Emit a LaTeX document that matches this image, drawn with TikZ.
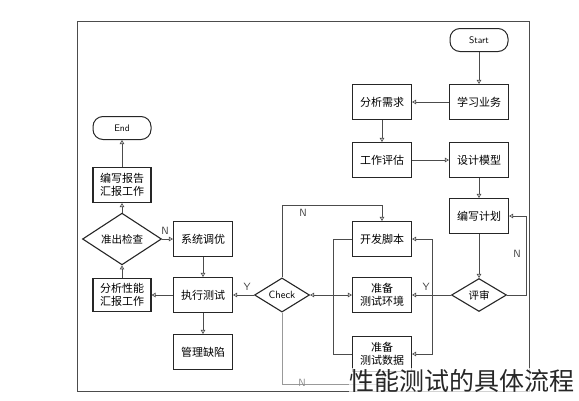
\documentclass[tikz,border=0pt]{standalone}
\usepackage{fontspec}
\newfontfamily\cjk{Noto Sans CJK SC}
\usetikzlibrary{arrows.meta}
\usetikzlibrary{shapes.geometric}

\begin{document}
\begin{tikzpicture}[x=1pt,y=-1pt]
\tikzset{task/.style={rectangle,draw=black!85,line width=1.1pt,minimum width=59pt,minimum height=35pt,inner sep=1pt,align=center,font=\cjk\fontsize{11}{13}\selectfont}}
\tikzset{term/.style={rectangle,draw=black!85,line width=1pt,rounded corners=10pt,minimum width=58pt,minimum height=23pt,font=\sffamily\fontsize{9.5}{10}\selectfont}}
\tikzset{decide/.style={diamond,draw=black!85,line width=1.1pt,minimum width=55pt,minimum height=33pt,inner sep=0pt,font=\cjk\fontsize{10.5}{12}\selectfont}}
\tikzset{flow/.style={draw=black!70,line width=0.7pt,-{Triangle[open,length=4pt,width=4.5pt]}}}
\tikzset{link/.style={draw=black!70,line width=0.7pt}}
\tikzset{yn/.style={font=\sffamily\fontsize{10.5}{11}\selectfont,text=black!75,inner sep=1pt}}
\useasboundingbox (0,0) rectangle (579,400);
\draw[black!70,line width=0.8pt] (77,21) rectangle (529,391);

% right column
\node[term] (start) at (479,40) {Start};
\node[task] (learn) at (479,102) {学习业务};
\node[task] (need) at (382,102) {分析需求};
\node[task] (cost) at (382,160) {工作评估};
\node[task] (model) at (479,160) {设计模型};
\node[task] (plan) at (479,216) {编写计划};
\node[decide] (review) at (479,295) {评审};

% middle column
\node[task] (script) at (382,239) {开发脚本};
\node[task] (env) at (382,295) {准备\\测试环境};
\node[task] (data) at (382,354) {准备\\测试数据};
\node[decide,font=\sffamily\fontsize{10.5}{12}\selectfont] (chk) at (282,295) {Check};

% left columns
\node[task] (tune) at (203,239) {系统调优};
\node[task] (run) at (203,295) {执行测试};
\node[task] (bug) at (203,352) {管理缺陷};
\node[task,minimum width=58pt,minimum height=33pt] (perf) at (122,295) {分析性能\\汇报工作};
\node[decide,minimum width=79pt] (exit) at (122,239) {准出检查};
\node[task,minimum width=58pt,minimum height=35pt] (report) at (122,185) {编写报告\\汇报工作};
\node[term] (end) at (122,128) {End};

\coordinate (ysplit) at (432,295);
\coordinate (merge) at (333,295);
\coordinate (nloop) at (526,216);
\coordinate (ntop) at (282,205);
\coordinate (nbot) at (282,384);

\draw[flow] (start) -- (learn);
\draw[flow] (learn) -- (need);
\draw[flow] (need) -- (cost);
\draw[flow] (cost) -- (model);
\draw[flow] (model) -- (plan);
\draw[flow] (plan) -- (review);
\draw[flow] (review.east) -| (nloop) -- (plan.east);
\node[yn] at (517,254) {N};
\draw[flow] (review.west) -- (env.east);
\node[yn] at (426,287) {Y};
\draw[flow] (ysplit) |- (script.east);
\draw[flow] (ysplit) |- (data.east);
\draw[link] (script.west) -| (merge);
\draw[link] (data.west) -| (merge);
\draw[flow] (merge) -- (chk.east);
\draw[flow] (merge) -- (env.west);
\draw[flow] (chk.north) -- (ntop) -| (script.north);
\node[yn] at (303,213) {N};
\draw[flow,draw=black!40] (chk.south) -- (nbot) -| (data.south);
\node[yn,text=black!45] at (302,383) {N};
\draw[flow] (chk.west) -- (run.east);
\node[yn] at (247,287) {Y};
\draw[flow] (tune) -- (run);
\draw[flow] (run) -- (bug);
\draw[flow] (run) -- (perf);
\draw[flow] (perf) -- (exit);
\draw[flow] (exit) -- (tune);
\node[yn] at (165,231) {N};
\draw[flow] (exit) -- (report);
\draw[flow] (report) -- (end);

\node[fill=white,fill opacity=0.75,text opacity=1,inner sep=1pt,font=\cjk\fontsize{25}{27}\selectfont,text=black!85] (caption) at (462,381) {性能测试的具体流程};
\end{tikzpicture}
\end{document}
